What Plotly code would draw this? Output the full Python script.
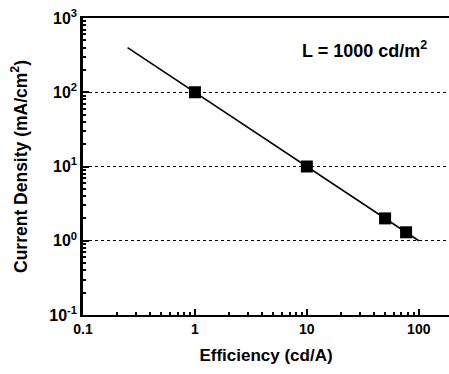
import plotly.graph_objects as go

# Data
line_eff = [0.25, 100]
line_j = [400, 1]
eff_points = [1, 10, 50, 77]
j_points = [100, 10, 2.0, 1.3]

x_tickvals = [0.1, 1, 10, 100]
x_ticktext = ["<b>0.1</b>", "<b>1</b>", "<b>10</b>", "<b>100</b>"]
y_tickvals = [0.1, 1, 10, 100, 1000]
y_ticktext = ["<b>10<sup>-1</sup></b>", "<b>10<sup>0</sup></b>", "<b>10<sup>1</sup></b>",
              "<b>10<sup>2</sup></b>", "<b>10<sup>3</sup></b>"]

font_family = "Liberation Sans, Arial, sans-serif"

fig = go.Figure()
fig.add_trace(go.Scatter(x=line_eff, y=line_j, mode="lines",
                         line=dict(color="black", width=1.6), showlegend=False))
fig.add_trace(go.Scatter(x=eff_points, y=j_points, mode="markers",
                         marker=dict(symbol="square", size=12, color="black"),
                         showlegend=False))

fig.update_layout(
    width=449, height=374,
    margin=dict(l=83, r=0, t=18, b=59, autoexpand=False),
    plot_bgcolor="white", paper_bgcolor="white",
    font=dict(family=font_family, color="black", size=14),
    xaxis=dict(
        type="log", range=[-1, 2.27], automargin=False,
        tickvals=x_tickvals, ticktext=x_ticktext,
        ticks="inside", ticklen=6, tickwidth=1.5, tickcolor="black",
        minor=dict(ticks="inside", ticklen=3, tickcolor="black", dtick="D1", showgrid=False),
        showline=True, linecolor="black", linewidth=2, mirror=True,
        showgrid=False, zeroline=False,
        tickfont=dict(size=14, family=font_family),
        title=dict(text="<b>Efficiency (cd/A)</b>", font=dict(size=17), standoff=13),
    ),
    yaxis=dict(
        type="log", range=[-1, 3], automargin=False,
        tickvals=y_tickvals, ticktext=y_ticktext,
        ticks="inside", ticklen=6, tickwidth=1.5, tickcolor="black",
        minor=dict(ticks="inside", ticklen=3, tickcolor="black", dtick="D1", showgrid=False),
        showline=True, linecolor="black", linewidth=2.5, mirror=False,
        showgrid=True, gridcolor="black", griddash="dot", gridwidth=1,
        zeroline=False,
        tickfont=dict(size=16, family=font_family),
        title=dict(text="<b>Current Density (mA/cm<sup>2</sup>)</b>", font=dict(size=17.5), standoff=18),
    ),
    annotations=[dict(
        x=0.77, y=0.895, xref="paper", yref="paper", xanchor="center", yanchor="middle",
        text="<b>L = 1000 cd/m<sup>2</sup></b>", showarrow=False,
        font=dict(size=18, family=font_family, color="black"),
    )],
)
fig.write_html("out.html", config={"displayModeBar": False},
               post_script="document.body.style.margin='0';document.body.style.overflow='hidden';")
